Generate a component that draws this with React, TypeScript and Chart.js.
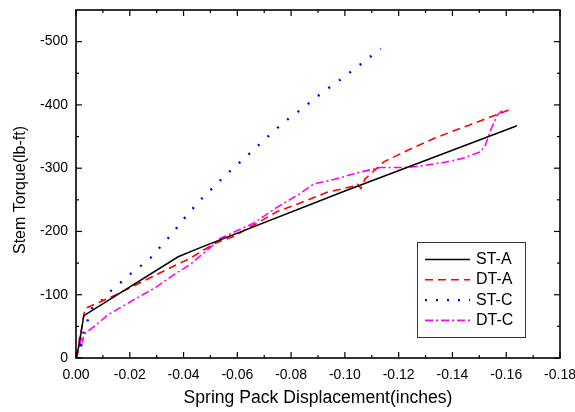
import React, { useEffect, useRef } from "react";
import { Chart, registerables } from "chart.js";

Chart.register(...registerables);

// ---- data (x: spring pack displacement in inches, y: stem torque in lb-ft) ----
const ST_A: [number, number][] = [
  [0, 0], [-0.0012, -22], [-0.0029, -67], [-0.038, -160], [-0.046, -174],
  [-0.1, -264], [-0.164, -367],
];

const DT_A: [number, number][] = [
  [0, 0], [-0.0005, -6], [-0.0018, -40], [-0.0031, -72], [-0.0037, -79],
  [-0.0081, -87], [-0.0149, -100], [-0.0248, -121], [-0.0329, -138],
  [-0.0422, -157], [-0.0515, -181], [-0.0586, -192], [-0.0747, -231],
  [-0.0834, -245], [-0.0934, -262], [-0.1027, -271], [-0.1045, -276],
  [-0.106, -268], [-0.1075, -283], [-0.1145, -310], [-0.1232, -328],
  [-0.1331, -347], [-0.143, -363], [-0.1517, -377], [-0.1573, -386],
  [-0.1615, -393],
];

const ST_C: [number, number][] = [
  [0, 0], [-0.0015, -10], [-0.0022, -25], [-0.0015, -15], [-0.0025, -30],
  [-0.002, -20], [-0.003, -45], [-0.0037, -52], [-0.0062, -81],
  [-0.0099, -92], [-0.0134, -108], [-0.0171, -121], [-0.0206, -134],
  [-0.0242, -146], [-0.0279, -159], [-0.0308, -173], [-0.0338, -187],
  [-0.0368, -202], [-0.0397, -218], [-0.0426, -232], [-0.0456, -247],
  [-0.0559, -290], [-0.063, -317], [-0.0701, -345], [-0.0774, -373],
  [-0.0847, -396], [-0.0917, -420], [-0.099, -442], [-0.1061, -465],
  [-0.1133, -489],
];

const DT_C: [number, number][] = [
  [0, 0], [-0.0008, -10], [-0.0012, -28], [-0.0016, -18], [-0.002, -30],
  [-0.0025, -26], [-0.0028, -35], [-0.0037, -40], [-0.0074, -52],
  [-0.0118, -68], [-0.0223, -94], [-0.0298, -112], [-0.0372, -134],
  [-0.0422, -147], [-0.0509, -178], [-0.0536, -189], [-0.066, -213],
  [-0.0747, -238], [-0.0822, -257], [-0.0884, -275], [-0.0958, -282],
  [-0.1058, -294], [-0.1132, -301], [-0.1232, -301], [-0.1306, -305],
  [-0.1393, -311], [-0.1442, -316], [-0.1505, -326], [-0.1523, -337],
  [-0.1542, -360], [-0.1567, -384], [-0.1585, -391],
];

const SERIES_NAMES = ["ST-A", "DT-A", "ST-C", "DT-C"];
const X_TICKS = [0, -0.02, -0.04, -0.06, -0.08, -0.1, -0.12, -0.14, -0.16, -0.18];
const X_MINOR = [-0.01, -0.03, -0.05, -0.07, -0.09, -0.11, -0.13, -0.15, -0.17];
const Y_TICKS = [0, -100, -200, -300, -400, -500];
const Y_MINOR = [-50, -150, -250, -350, -450];
const X_TITLE = "Spring Pack Displacement(inches)";
const Y_TITLE = "Stem Torque(lb-ft)";

const FONT = '"Liberation Sans", Arial, sans-serif';

const toPts = (arr: [number, number][]) => arr.map(([x, y]) => ({ x, y }));

const zeroPad = (s: any) => {
  s.paddingTop = 0;
  s.paddingBottom = 0;
  s.paddingLeft = 0;
  s.paddingRight = 0;
};

const framePlugin = {
  id: "frame",
  afterDatasetsDraw(chart: any) {
    const { ctx, chartArea, scales } = chart;
    const { left, right, top, bottom } = chartArea;
    const xs = scales.x;
    const ys = scales.y;
    ctx.save();
    ctx.strokeStyle = "#000";
    ctx.lineWidth = 1.6;
    ctx.strokeRect(left, top, right - left, bottom - top);
    ctx.lineWidth = 1.2;
    const seg = (x1: number, y1: number, x2: number, y2: number) => {
      ctx.beginPath();
      ctx.moveTo(x1, y1);
      ctx.lineTo(x2, y2);
      ctx.stroke();
    };
    X_TICKS.forEach((v) => {
      const p = xs.getPixelForValue(v);
      seg(p, bottom, p, bottom - 6);
      seg(p, top, p, top + 6);
    });
    X_MINOR.forEach((v) => {
      const p = xs.getPixelForValue(v);
      seg(p, bottom, p, bottom - 3);
      seg(p, top, p, top + 3);
    });
    Y_TICKS.forEach((v) => {
      const p = ys.getPixelForValue(v);
      seg(left, p, left + 6, p);
      seg(right, p, right - 6, p);
    });
    Y_MINOR.forEach((v) => {
      const p = ys.getPixelForValue(v);
      seg(left, p, left + 3, p);
      seg(right, p, right - 3, p);
    });

    // axis titles
    ctx.fillStyle = "#000";
    ctx.textAlign = "center";
    ctx.textBaseline = "middle";
    ctx.font = `17.6px ${FONT}`;
    ctx.fillText(X_TITLE, (left + right) / 2, 398);
    ctx.save();
    ctx.translate(21, 190);
    ctx.rotate(-Math.PI / 2);
    ctx.font = `16px ${FONT}`;
    ctx.fillText(Y_TITLE, 0, 0);
    ctx.restore();

    // legend
    const bx = 417, by = 242, bw = 108, bh = 95;
    ctx.fillStyle = "#fff";
    ctx.fillRect(bx, by, bw, bh);
    ctx.strokeStyle = "#333";
    ctx.lineWidth = 1;
    ctx.strokeRect(bx + 0.5, by + 0.5, bw, bh);
    chart.data.datasets.forEach((ds: any, i: number) => {
      const yy = 259.5 + i * 20.3;
      ctx.save();
      ctx.strokeStyle = ds.borderColor;
      ctx.lineWidth = ds.borderWidth;
      ctx.setLineDash(ds.legendDash || []);
      seg(425, yy, 470, yy);
      ctx.restore();
      ctx.fillStyle = "#000";
      ctx.textAlign = "left";
      ctx.textBaseline = "middle";
      ctx.font = `16px ${FONT}`;
      ctx.fillText(ds.label, 476, yy);
    });
    ctx.restore();
  },
};

export default function App() {
  const ref = useRef<HTMLCanvasElement | null>(null);
  useEffect(() => {
    document.body.style.margin = "0";
    const canvas = ref.current;
    if (!canvas) return;
    const chart = new Chart(canvas, {
      type: "scatter",
      data: {
        datasets: [
          {
            label: SERIES_NAMES[0], data: toPts(ST_A), borderColor: "#000000",
            borderWidth: 1.5, showLine: true, pointRadius: 0, legendDash: [],
          },
          {
            label: SERIES_NAMES[1], data: toPts(DT_A), borderColor: "#ff0000",
            borderWidth: 1.6, borderDash: [8, 5], showLine: true, pointRadius: 0,
            legendDash: [8, 5],
          },
          {
            label: SERIES_NAMES[2], data: toPts(ST_C), borderColor: "#0000ff",
            borderWidth: 2.4, borderDash: [2, 11], showLine: true, pointRadius: 0,
            legendDash: [2, 9],
          },
          {
            label: SERIES_NAMES[3], data: toPts(DT_C), borderColor: "#ff00ff",
            borderWidth: 1.6, borderDash: [8, 3, 2, 3], showLine: true, pointRadius: 0,
            legendDash: [8, 3, 2, 3],
          },
        ] as any,
      },
      options: {
        animation: false,
        responsive: false,
        maintainAspectRatio: false,
        layout: { padding: { top: 10, right: 15, left: 0, bottom: 0 } },
        plugins: { legend: { display: false }, tooltip: { enabled: false } },
        elements: { line: { tension: 0 } },
        scales: {
          x: {
            type: "linear",
            min: -0.18,
            max: 0,
            reverse: true,
            grid: { display: false, drawTicks: false },
            border: { display: false },
            afterBuildTicks: (s: any) => {
              s.ticks = X_TICKS.map((v) => ({ value: v }));
            },
            afterFit: (s: any) => {
              s.height = 54;
              zeroPad(s);
            },
            ticks: {
              padding: 9,
              color: "#000",
              font: { family: FONT, size: 14 },
              maxRotation: 0,
              autoSkip: false,
              callback: (v: any) => Number(v).toFixed(2),
            },
          },
          y: {
            type: "linear",
            min: -550,
            max: 0,
            reverse: true,
            grid: { display: false, drawTicks: false },
            border: { display: false },
            afterBuildTicks: (s: any) => {
              s.ticks = Y_TICKS.map((v) => ({ value: v }));
            },
            afterFit: (s: any) => {
              s.width = 76;
              zeroPad(s);
            },
            ticks: {
              padding: 8,
              color: "#000",
              font: { family: FONT, size: 14 },
              autoSkip: false,
              callback: (v: any) => String(Math.round(Number(v))),
            },
          },
        },
      },
      plugins: [framePlugin],
    });
    return () => chart.destroy();
  }, []);
  return (
    <div style={{ width: 575, height: 412 }}>
      <canvas ref={ref} width={575} height={412} style={{ display: "block" }} />
    </div>
  );
}
